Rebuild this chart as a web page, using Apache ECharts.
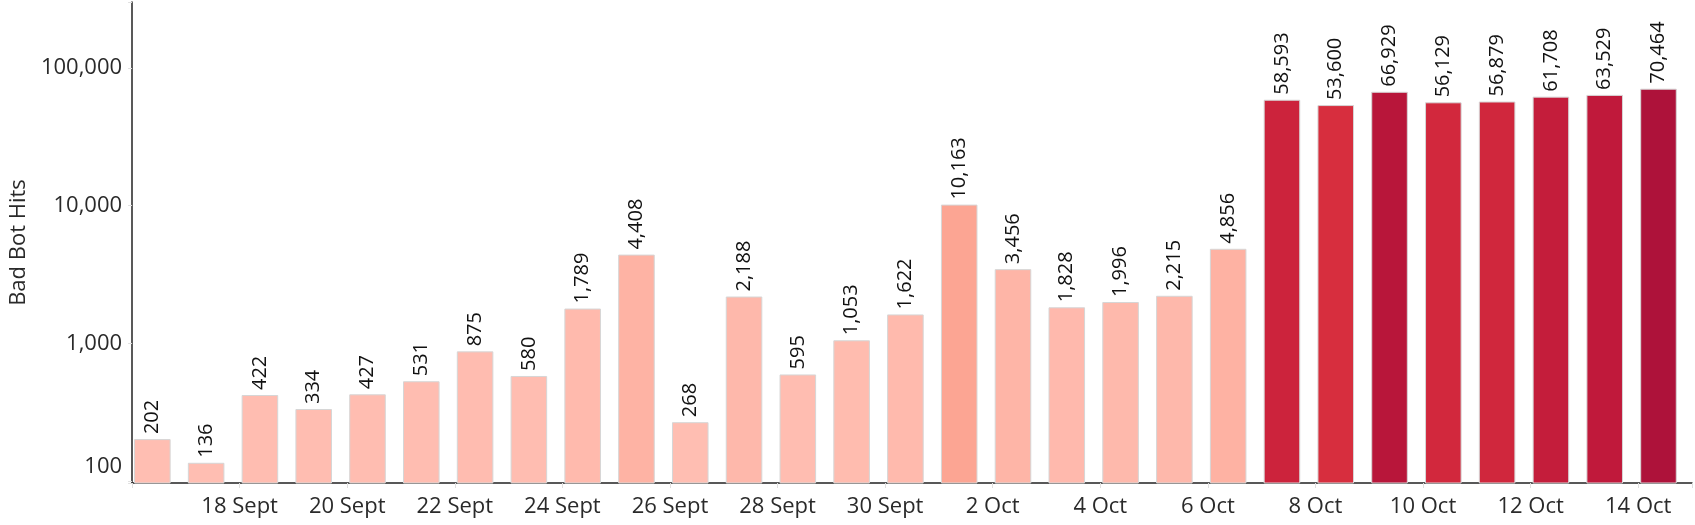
<!DOCTYPE html>
<html><head><meta charset="utf-8">
<script src="https://cdn.jsdelivr.net/npm/echarts@6/dist/echarts.min.js"></script>
<style>html,body{margin:0;padding:0;background:#fff}#c{width:1695px;height:525px}</style>
</head><body><div id="c"></div>
<script>
const dates = ['16 Sept','17 Sept','18 Sept','19 Sept','20 Sept','21 Sept','22 Sept','23 Sept','24 Sept','25 Sept',
  '26 Sept','27 Sept','28 Sept','29 Sept','30 Sept','1 Oct','2 Oct','3 Oct','4 Oct','5 Oct','6 Oct','7 Oct',
  '8 Oct','9 Oct','10 Oct','11 Oct','12 Oct','13 Oct','14 Oct'];
const hits = [202,136,422,334,427,531,875,580,1789,4408,268,2188,595,1053,1622,10163,3456,1828,1996,2215,4856,
  58593,53600,66929,56129,56879,61708,63529,70464];
const colorRamp = ["#ffbeb2","#feb4a6","#fdab9b","#fca290","#fb9984","#fa8f79","#f9856e","#f77b66","#f5715d","#f36754",
  "#f05c4d","#ec5049","#e74545","#e13b42","#da323f","#d3293d","#ca223c","#c11a3b","#b8163a","#ae123a"];
const FONT = 'Open Sans';
const fmt = v => Number(v).toLocaleString('en-US');

const chart = echarts.init(document.getElementById('c'));
chart.setOption({
  animation: false,
  backgroundColor: '#fff',
  textStyle: { fontFamily: FONT },
  grid: { left: 129, right: -4, top: 2, bottom: 42, containLabel: false },
  visualMap: { type: 'continuous', show: false, seriesIndex: 0,
    min: Math.min(...hits), max: Math.max(...hits), inRange: { color: colorRamp } },
  xAxis: [
    { type: 'category', data: dates, position: 'bottom',
      axisLine: { show: true, lineStyle: { color: '#222', width: 1.5 } },
      axisTick: { show: false }, axisLabel: { show: false }, splitLine: { show: false } },
    { type: 'value', min: 0, max: dates.length, interval: 2, position: 'bottom',
      axisLine: { show: false },
      axisTick: { show: true, length: 5, lineStyle: { color: '#e0e0e0' } },
      splitLine: { show: false },
      axisLabel: { fontSize: 22, color: '#2a2a2a', margin: 13, fontFamily: FONT,
        formatter: v => (v > 0 && v % 2 === 0 && dates[v]) ? dates[v] : '' } }
  ],
  yAxis: {
    type: 'log', logBase: 10, min: 97, max: 300000,
    name: 'Bad Bot Hits', nameLocation: 'middle', nameGap: 102,
    nameTextStyle: { fontSize: 22, color: '#2a2a2a', fontFamily: FONT },
    axisLine: { show: true, lineStyle: { color: '#222', width: 1.5 } },
    axisTick: { show: true, length: 4, lineStyle: { color: '#e0e0e0' } },
    splitLine: { show: false },
    axisLabel: { fontSize: 22, color: '#2a2a2a', margin: 10, fontFamily: FONT,
      formatter: v => {
        const e = Math.log10(v);
        if (Math.abs(e - Math.round(e)) > 1e-6) return '';
        const r = Math.round(v);
        return r === 100 ? '{lift|100}' : fmt(r);
      },
      rich: { lift: { fontSize: 22, color: '#2a2a2a', fontFamily: FONT, padding: [0, 0, 28, 0] } } }
  },
  series: [
    { type: 'bar', xAxisIndex: 0, data: hits, barGap: '-63.8%', barCategoryGap: '7.4%',
      itemStyle: { borderColor: '#d6d6d6', borderWidth: 1 },
      label: { show: true, position: 'top', rotate: 90, align: 'left', verticalAlign: 'middle', distance: 5,
        fontSize: 20, color: '#111', fontFamily: FONT, formatter: p => fmt(p.value) } },
    { type: 'bar', xAxisIndex: 0, data: [], barGap: '-63.8%', barCategoryGap: '7.4%' }
  ]
});
</script></body></html>
